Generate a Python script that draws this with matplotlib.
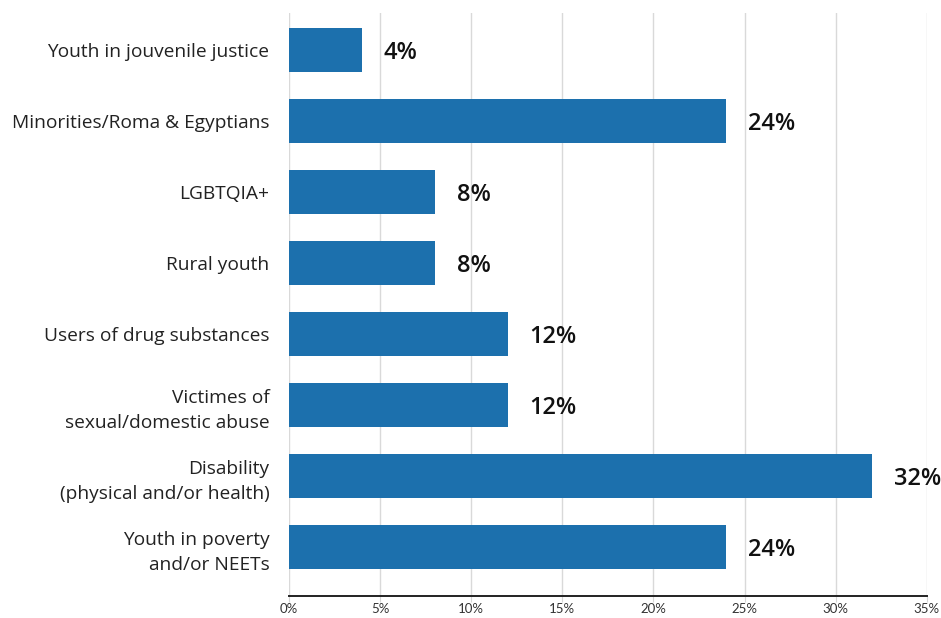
import matplotlib
matplotlib.use("Agg")
import matplotlib.pyplot as plt

groups = [
    "Youth in jouvenile justice",
    "Minorities/Roma & Egyptians",
    "LGBTQIA+",
    "Rural youth",
    "Users of drug substances",
    "Victimes of\nsexual/domestic abuse",
    "Disability\n(physical and/or health)",
    "Youth in poverty\nand/or NEETs",
]
shares = [4, 24, 8, 8, 12, 12, 32, 24]
x_ticks = [0, 5, 10, 15, 20, 25, 30, 35]

plt.rcParams["font.family"] = ["Open Sans", "DejaVu Sans"]

fig = plt.figure(figsize=(9.41, 6.18), dpi=100)
ax = fig.add_axes([0.307, 0.035, 0.678, 0.944])

pos = list(range(len(groups)))
ax.barh(pos, shares, height=0.62, color="#1c70ad", zorder=3)

for y, v in zip(pos, shares):
    ax.text(v + 1.2, y, f"{v}%", va="center_baseline", ha="left",
            fontsize=17, fontweight="semibold", color="#111111")

ax.set_yticks(pos)
ax.set_yticklabels(groups, fontsize=13.8, color="#222222", linespacing=1.45)
ax.tick_params(axis="y", length=0, pad=14)

ax.set_xlim(0, 35)
ax.set_ylim(7.69, -0.52)
ax.set_xticks(x_ticks)
ax.set_xticklabels([f"{t}%" for t in x_ticks], fontsize=9.5, color="#333333",
                   family=["Lato", "DejaVu Sans"])
ax.tick_params(axis="x", length=4, color="#d6d6d6", pad=1)

ax.grid(axis="x", color="#d9d9d9", linewidth=1, zorder=0)
for side in ["top", "right", "left"]:
    ax.spines[side].set_visible(False)
ax.spines["bottom"].set_color("#222222")
ax.spines["bottom"].set_linewidth(1.4)
ax.spines["bottom"].set_zorder(4)

fig.savefig("out.png", dpi=100)
